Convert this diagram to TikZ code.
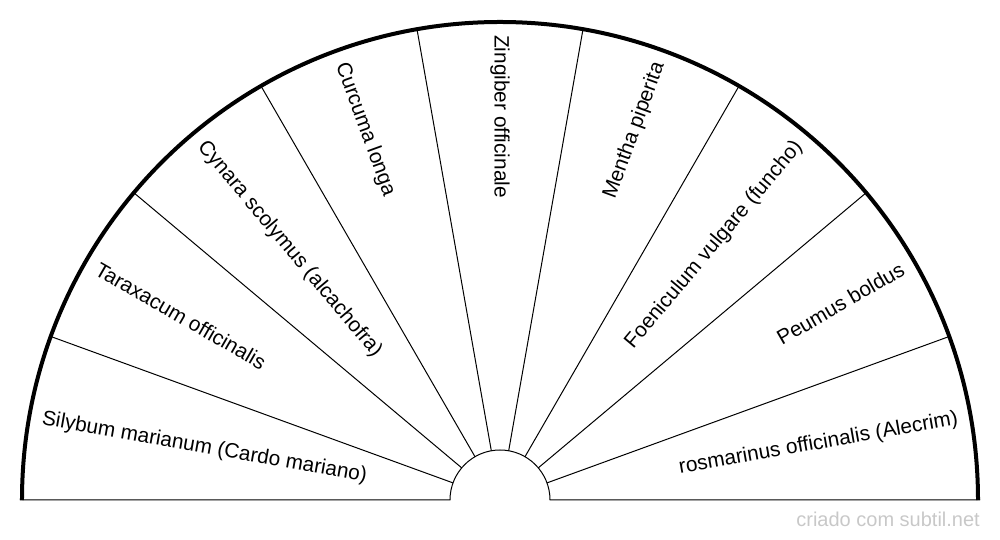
\documentclass[tikz,border=0pt]{standalone}
\usepackage{fontspec}
\setmainfont{Liberation Sans}
\definecolor{markgray}{HTML}{C8C8C8}

\begin{document}
\begin{tikzpicture}[x=1pt,y=1pt,
    spoke/.style={line width=1pt},
    rim/.style={line width=4pt},
    plant/.style={inner sep=0pt,font=\fontsize{20.8}{25}\selectfont},
    credit/.style={inner sep=0pt,text=markgray,font=\fontsize{20}{24}\selectfont}]
  \useasboundingbox (-500,-40) rectangle (500,500);
  \coordinate (o) at (0,0);
  % base line and hub
  \draw[spoke] (-480,0) -- (-50,0) arc (180:0:50) -- (480,0);
  % spokes
  \foreach \a in {20,40,...,160}
    \draw[spoke] (\a:50) -- (\a:478);
  \draw[rim] (-478,0) arc (180:0:478);
  % labels, left half read outwards-in, right half inwards-out
  \foreach \a/\t in {170/{Silybum marianum (Cardo mariano)},
      150/{Taraxacum officinalis},
      130/{Cynara scolymus (alcachofra)},
      110/{Curcuma longa},
      90/{Zingiber officinale}}
    \node[plant,anchor=west,rotate=\a-180] (p\a) at (\a:465) {\t};
  \foreach \a/\t in {70/{Mentha piperita},
      50/{Foeniculum vulgare (funcho)},
      30/{Peumus boldus},
      10/{rosmarinus officinalis (Alecrim)}}
    \node[plant,anchor=east,rotate=\a] (p\a) at (\a:465) {\t};
  \node[credit,anchor=base east] (credit) at (480,-27) {criado com subtil.net};
\end{tikzpicture}
\end{document}
